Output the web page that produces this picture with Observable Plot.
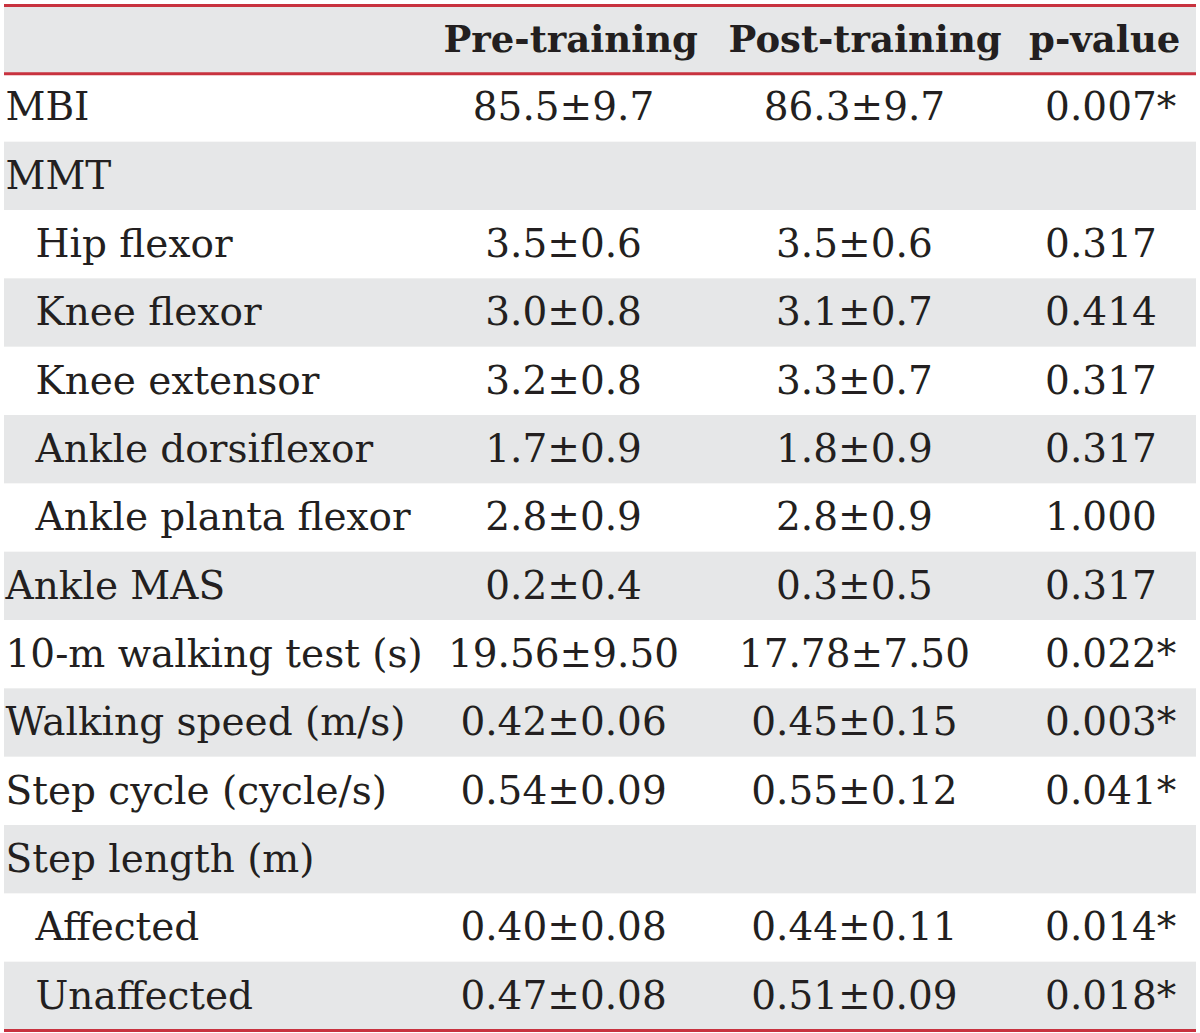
<!DOCTYPE html>
<html>
<head>
<meta charset="utf-8">
<script src="https://cdn.jsdelivr.net/npm/d3@7"></script>
<script src="https://cdn.jsdelivr.net/npm/@observablehq/plot@0.6"></script>
<style>
  html, body { margin: 0; padding: 0; background: #fff; }
  #chart svg { display: block; }
</style>
</head>
<body>
<div id="chart"></div>
<script>
// ---- data ----
const columnHeaders = ["Pre-training", "Post-training", "p-value"];
const labels = [
  "MBI", "MMT", "Hip flexor", "Knee flexor", "Knee extensor",
  "Ankle dorsiflexor", "Ankle planta flexor", "Ankle MAS",
  "10-m walking test (s)", "Walking speed (m/s)", "Step cycle (cycle/s)",
  "Step length (m)", "Affected", "Unaffected"
];
const indented = [false, false, true, true, true, true, true, false, false, false, false, false, true, true];
const preValues = [
  "85.5±9.7", "", "3.5±0.6", "3.0±0.8", "3.2±0.8", "1.7±0.9", "2.8±0.9",
  "0.2±0.4", "19.56±9.50", "0.42±0.06", "0.54±0.09", "", "0.40±0.08", "0.47±0.08"
];
const postValues = [
  "86.3±9.7", "", "3.5±0.6", "3.1±0.7", "3.3±0.7", "1.8±0.9", "2.8±0.9",
  "0.3±0.5", "17.78±7.50", "0.45±0.15", "0.55±0.12", "", "0.44±0.11", "0.51±0.09"
];
const pValues = [
  "0.007*", "", "0.317", "0.414", "0.317", "0.317", "1.000",
  "0.317", "0.022*", "0.003*", "0.041*", "", "0.014*", "0.018*"
];

// ---- layout (column anchors in table-width fractions) ----
const W = 1200, H = 1033;
const nRows = labels.length + 1; // + header
const col = { label: 0, pre: 0.469, post: 0.713, p: 0.873 };
const headCol = [0.475, 0.722, 0.923];
const font = "DejaVu Serif";
const fs = 39;
const headFs = 37;
const ink = "#231f20";
const red = "#c8323f";
const gray = "#e6e7e8";

const rows = labels.map((label, i) => ({
  row: i + 1, label, indent: indented[i],
  pre: preValues[i], post: postValues[i], p: pValues[i]
}));
const bands = d3.range(nRows).filter(i => i % 2 === 0).map(i => ({row: i}));
const heads = columnHeaders.map((h, i) => ({text: h, x: headCol[i]}));

const chart = Plot.plot({
  width: W, height: H,
  margin: 0,
  x: {domain: [0, 1], range: [4, 1196], axis: null},
  y: {domain: [0, nRows], range: [5, 1030], axis: null},
  style: {fontFamily: font, background: "#fff"},
  marks: [
    Plot.rect(bands, {x1: 0, x2: 1, y1: d => d.row, y2: d => d.row + 1, fill: gray}),
    Plot.ruleY([0, 1, nRows], {x1: 0, x2: 1, stroke: red, strokeWidth: 3}),
    Plot.text(heads, {x: "x", y: 0.5, text: "text", fontSize: headFs, fontWeight: "bold",
      fill: ink, textAnchor: "middle", lineAnchor: "middle"}),
    Plot.text(rows.filter(d => !d.indent), {x: col.label, y: d => d.row + 0.5, text: "label",
      fontSize: fs, fill: ink, textAnchor: "start", lineAnchor: "middle", dx: 1}),
    Plot.text(rows.filter(d => d.indent), {x: col.label, y: d => d.row + 0.5, text: "label",
      fontSize: fs, fill: ink, textAnchor: "start", lineAnchor: "middle", dx: 31}),
    Plot.text(rows, {x: col.pre, y: d => d.row + 0.5, text: "pre",
      fontSize: fs, fill: ink, textAnchor: "middle", lineAnchor: "middle"}),
    Plot.text(rows, {x: col.post, y: d => d.row + 0.5, text: "post",
      fontSize: fs, fill: ink, textAnchor: "middle", lineAnchor: "middle"}),
    Plot.text(rows, {x: col.p, y: d => d.row + 0.5, text: "p",
      fontSize: fs, fill: ink, textAnchor: "start", lineAnchor: "middle"})
  ]
});
document.getElementById("chart").appendChild(chart);
</script>
</body>
</html>
